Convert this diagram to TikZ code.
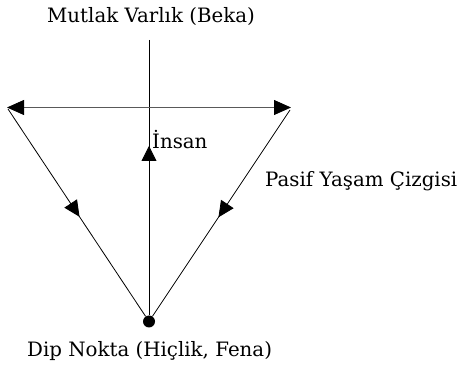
\documentclass[tikz,border=0pt]{standalone}
\usepackage{fontspec}
\setmainfont{DejaVu Serif}
\usetikzlibrary{arrows.meta,decorations.markings}
\begin{document}
\begin{tikzpicture}[x=1pt,y=1pt,
  lbl/.style={inner sep=0pt, anchor=base west, font=\fontsize{19.8}{24}\selectfont},
  bigtip/.style={-{Triangle[length=15pt,width=15pt]}},
  ln/.style={line width=0.8pt, black},
  midarrow/.style={postaction={decorate}, decoration={markings,
    mark=at position 0.52 with {\arrow{Triangle[length=16pt,width=15pt]}}}}]
\useasboundingbox (0,0) rectangle (460,366);
\coordinate (top) at (149,326);
\node[circle, fill, inner sep=0pt, minimum size=12pt] (dip) at (149,44.5) {};
\coordinate (L) at (7,258.5);
\coordinate (R) at (291,258.5);
\coordinate (Ls) at (8,257);
\coordinate (Rs) at (290,256);
\coordinate (ins) at (149,220);
% lines
\draw[ln] (top) -- (dip);
\draw[ln, black!65, {Triangle[length=17pt,width=15pt,color=black]}-{Triangle[length=17pt,width=15pt,color=black]}] (L) -- (R);
\draw[ln, midarrow] (Ls) -- (dip);
\draw[ln, midarrow] (Rs) -- (dip);
\draw[ln, bigtip] (dip) -- (ins);
% labels
\node[lbl] (beka) at (47,343.3) {Mutlak Varlık (Beka)};
\node[lbl] (insan) at (152,217) {İnsan};
\node[lbl] (pasif) at (265,179) {Pasif Yaşam Çizgisi};
\node[lbl] (fena) at (27,9.3) {Dip Nokta (Hiçlik, Fena)};
\end{tikzpicture}
\end{document}
